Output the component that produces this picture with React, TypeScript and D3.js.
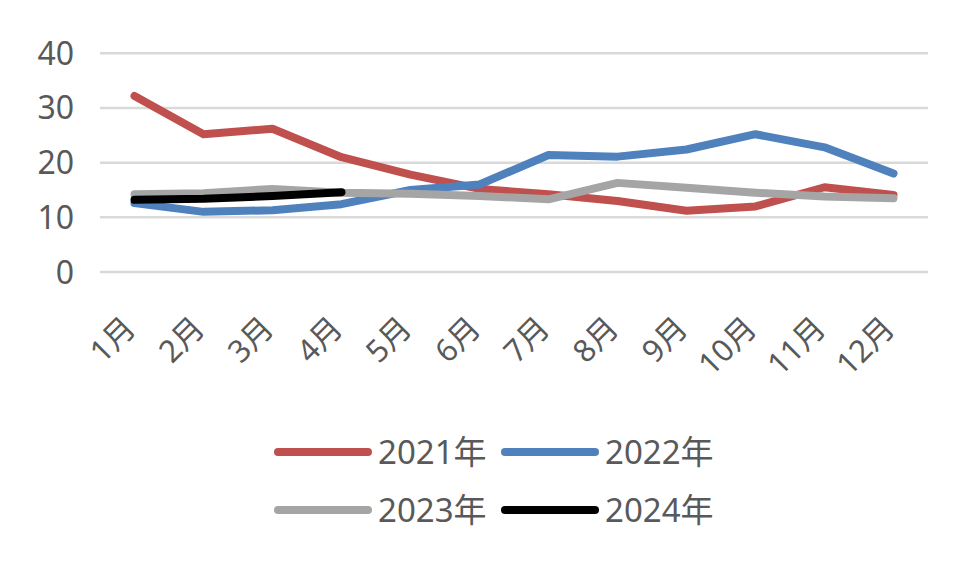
import React from "react";
import * as d3 from "d3";

const months = ["1月", "2月", "3月", "4月", "5月", "6月", "7月", "8月", "9月", "10月", "11月", "12月"];
const s2021 = [32.2, 25.2, 26.2, 21.0, 17.8, 15.2, 14.2, 13.0, 11.2, 12.0, 15.5, 14.1];
const s2022 = [12.6, 11.0, 11.3, 12.4, 15.0, 16.0, 21.4, 21.1, 22.4, 25.2, 22.8, 18.0];
const s2023 = [14.2, 14.4, 15.2, 14.5, 14.3, 13.9, 13.3, 16.3, 15.4, 14.5, 13.8, 13.5];
const s2024 = [13.2, 13.4, 13.9, 14.6];
const yTicks = [0, 10, 20, 30, 40];
const seriesNames = ["2021年", "2022年", "2023年", "2024年"];
const seriesColors = ["#C0504D", "#4F81BD", "#A5A5A5", "#000000"];

export default function App() {
  const W = 980, H = 576;
  const font = "'Noto Sans', 'Noto Sans CJK SC', sans-serif";
  const x = d3.scaleBand<string>().domain(months).range([100, 928]);
  const cx = (m: string) => (x(m) as number) + x.bandwidth() / 2;
  const y = d3.scaleLinear().domain([0, 40]).range([272, 53.3]);
  const all = [s2021, s2022, s2023, s2024];
  const line = d3.line<number>().x((_, i) => cx(months[i])).y((v) => y(v));
  const legendPos = [
    [278, 452], [505, 452], [278, 510], [505, 510],
  ];
  return (
    <svg width={W} height={H} style={{ position: "absolute", left: 0, top: 0, background: "#fff" }}>
      <rect width={W} height={H} fill="#fff" />
      {yTicks.map((t) => (
        <g key={t}>
          <line x1={100} x2={928} y1={y(t)} y2={y(t)} stroke="#D9D9D9" strokeWidth={2.5} />
          <text x={74} y={y(t)} dy="0.36em" textAnchor="end" fontSize={32} fill="#595959" fontFamily={font}>{t}</text>
        </g>
      ))}
      {months.map((m) => (
        <text key={m} transform={`translate(${cx(m) + 3},${330}) rotate(-45)`} textAnchor="end" fontSize={31} fill="#595959" fontFamily={font}>{m}</text>
      ))}
      {all.map((s, i) => (
        <path key={i} d={line(s) as string} fill="none" stroke={seriesColors[i]} strokeWidth={8} strokeLinejoin="round" strokeLinecap="round" />
      ))}
      {seriesNames.map((n, i) => (
        <g key={n}>
          <line x1={legendPos[i][0]} x2={legendPos[i][0] + 90} y1={legendPos[i][1]} y2={legendPos[i][1]} stroke={seriesColors[i]} strokeWidth={8} strokeLinecap="round" />
          <text x={legendPos[i][0] + 100} y={legendPos[i][1]} dy="0.36em" fontSize={33} fill="#595959" fontFamily={font}>{n}</text>
        </g>
      ))}
    </svg>
  );
}
